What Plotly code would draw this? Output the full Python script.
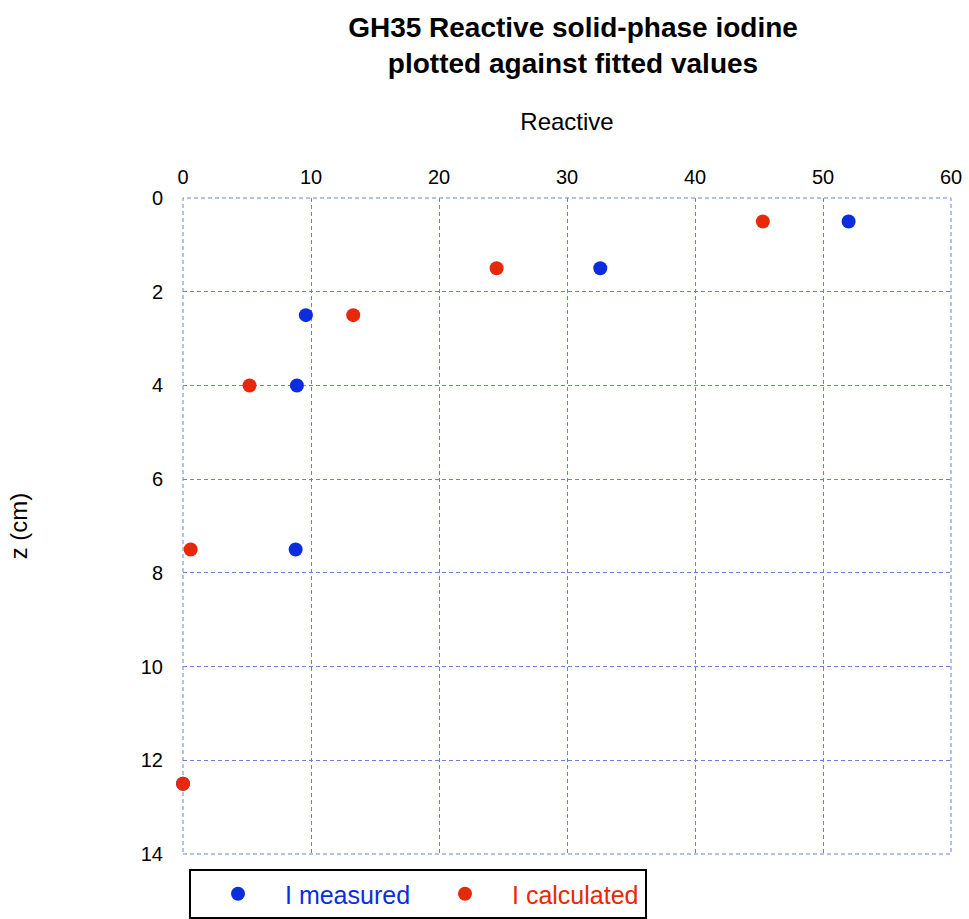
import plotly.graph_objects as go

depth = [0.5, 1.5, 2.5, 4.0, 7.5, 12.5]
i_measured = [52.0, 32.6, 9.6, 8.9, 8.8, 0.0]
i_calculated = [45.3, 24.5, 13.3, 5.2, 0.6, 0.0]
x_ticks = [0, 10, 20, 30, 40, 50, 60]
y_ticks = [0, 2, 4, 6, 8, 10, 12, 14]

BLUE = "#0b2ddf"
RED = "#e8280a"
GRID = "#6b7fe0"
FONT = "Liberation Sans, Arial, sans-serif"

W, H = 969, 919
L, R, T, B = 183, 18, 198, 65
pw, ph = W - L - R, H - T - B

fig = go.Figure()
fig.add_trace(go.Scatter(x=i_measured, y=depth, mode="markers",
                         name=f"<span style='color:{BLUE}'>I measured</span>",
                         marker=dict(color=BLUE, size=14), cliponaxis=False))
fig.add_trace(go.Scatter(x=i_calculated, y=depth, mode="markers",
                         name=f"<span style='color:{RED}'>I calculated</span>",
                         marker=dict(color=RED, size=14), cliponaxis=False))

# dashed plot-area frame
fig.add_shape(type="rect", xref="paper", yref="paper", x0=0, x1=1, y0=0, y1=1,
              line=dict(color=GRID, width=1, dash="4px,3px"), layer="below")

fig.update_layout(
    width=W, height=H,
    margin=dict(l=L, r=R, t=T, b=B, autoexpand=False),
    paper_bgcolor="white", plot_bgcolor="white",
    font=dict(family=FONT, color="black"),
    title=dict(text="<b>GH35 Reactive solid-phase iodine<br>plotted against fitted values</b>",
               x=(573 - L) / pw, xref="paper", xanchor="center",
               y=1 - 37 / H, yref="container", yanchor="top",
               font=dict(size=28, family=FONT, color="black")),
    xaxis=dict(side="top", range=[0, 60], tickvals=x_ticks, ticks="",
               tickfont=dict(size=20), showgrid=True, gridcolor=GRID, gridwidth=1,
               griddash="4px,3px", zeroline=False, showline=False,
               title=dict(text="Reactive", font=dict(size=24), standoff=28),
               automargin=False, ticklabelstandoff=9),
    yaxis=dict(range=[14, 0], tickvals=y_ticks, ticks="",
               tickfont=dict(size=20), showgrid=True, gridcolor=GRID, gridwidth=1,
               griddash="4px,3px", zeroline=False, showline=False,
               title=dict(text="z (cm)", font=dict(size=24), standoff=106),
               automargin=False, ticklabelstandoff=19),
    legend=dict(orientation="h", x=(189 - L) / pw, xanchor="left",
                y=-(869 - T - ph) / ph, yanchor="top",
                bordercolor="black", borderwidth=2, bgcolor="white",
                font=dict(size=25), itemwidth=84,
                entrywidth=128, entrywidthmode="pixels"),
)

fig.write_html("out.html")
